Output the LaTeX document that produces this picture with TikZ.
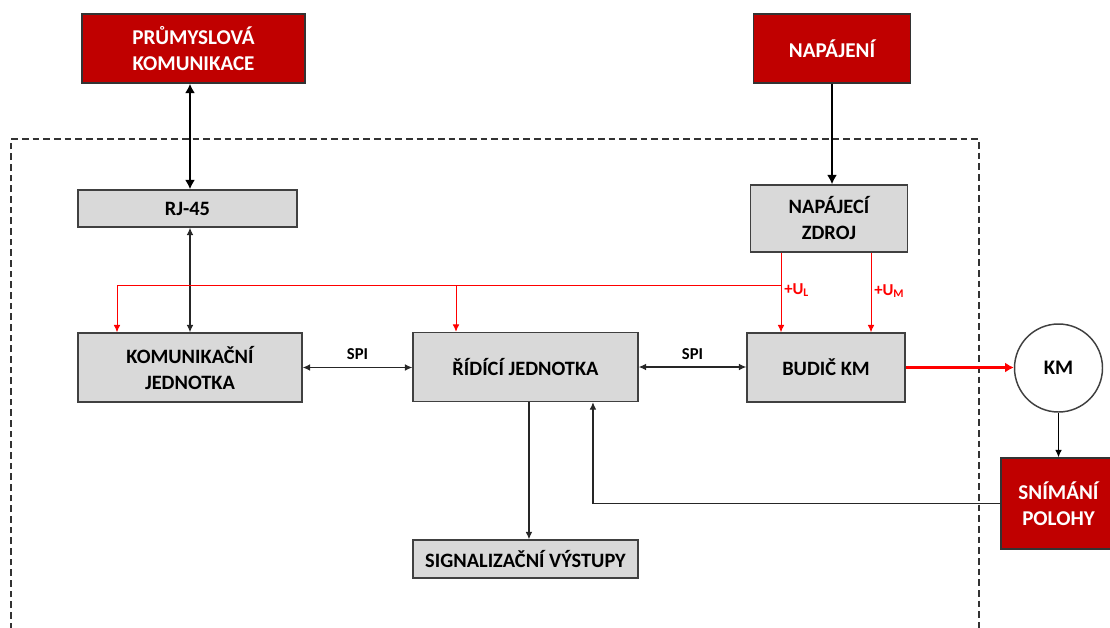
\documentclass[tikz,border=0pt]{standalone}
\usepackage{fontspec}
\setmainfont{Carlito}
\usetikzlibrary{arrows.meta}

\definecolor{tmcervena}{HTML}{C00000}
\definecolor{seda}{HTML}{D9D9D9}
\definecolor{okraj}{HTML}{404040}

\begin{document}
\begin{tikzpicture}[x=0.75pt,y=-0.75pt,
    blok/.style={draw=okraj,fill=seda,line width=1.1pt,inner sep=0pt,align=center,
      font=\bfseries\fontsize{15.3}{19.5}\selectfont},
    vnejsi/.style={blok,draw=black!80,fill=tmcervena,text=white,
      font=\bfseries\fontsize{15.8}{19.5}\selectfont},
    spoj/.style={draw=black!85,line width=0.8pt,-{Latex[length=5.5pt,width=5pt]}},
    obous/.style={spoj,{Latex[length=5.5pt,width=5pt]}-{Latex[length=5.5pt,width=5pt]}},
    silna/.style={draw=black,line width=2.2pt,-{Latex[length=7pt,width=7.5pt]}},
    silnaobous/.style={silna,{Latex[length=7pt,width=7.5pt]}-{Latex[length=7pt,width=7.5pt]}},
    napeti/.style={draw=red,line width=0.7pt,-{Latex[length=5.5pt,width=5pt]}},
    popis/.style={font=\bfseries\fontsize{12.5}{14}\selectfont}]
  \useasboundingbox (0,0) rectangle (1110,628);

  % hranice zarizeni
  \draw[black!80,line width=0.8pt,dash pattern=on 5pt off 3pt] (11,640) -- (11,139) -- (979,139) -- (979,640);

  \node[vnejsi,minimum width=167.25pt,minimum height=51.75pt] (PK) at (193.5,48.5) {PRŮMYSLOVÁ\\KOMUNIKACE};
  \node[vnejsi,minimum width=117.75pt,minimum height=51.75pt] (NAP) at (832,48.5) {NAPÁJENÍ};

  \node[blok,minimum width=164.25pt,minimum height=27.75pt] (RJ) at (187.5,208.5) {RJ-45};
  \node[blok,minimum width=117.75pt,minimum height=50.25pt] (NZ) at (829,218.5) {NAPÁJECÍ\\ZDROJ};

  \node[blok,minimum width=168pt,minimum height=51.75pt] (KJ) at (190,367.5) {KOMUNIKAČNÍ\\JEDNOTKA};
  \node[blok,minimum width=168.75pt,minimum height=51.75pt] (RJed) at (525.5,367) {ŘÍDÍCÍ JEDNOTKA};
  \node[blok,minimum width=118.5pt,minimum height=51.75pt] (BKM) at (826,367.5) {BUDIČ KM};
  \node[blok,minimum width=168.75pt,minimum height=28.5pt] (SV) at (525.5,559) {SIGNALIZAČNÍ VÝSTUPY};

  \node[circle,draw=okraj,line width=1.1pt,minimum size=66pt,inner sep=0pt,
    font=\bfseries\fontsize{15.5}{18}\selectfont] (KM) at (1058.5,368) {KM};
  \node[vnejsi,minimum width=86.25pt,minimum height=68.25pt] (SP) at (1058.5,503.5) {SNÍMÁNÍ\\POLOHY};

  % komunikace
  \draw[silnaobous] (PK.south -| KJ.north) -- (RJ.north -| KJ.north);
  \draw[obous] (RJ.south -| KJ.north) -- (KJ.north);
  \draw[silna] (NAP.south) -- (NAP.south |- NZ.north);

  \draw[obous] (KJ.east) -- node[popis,above=2pt] (SPI1) {SPI} (KJ.east -| RJed.west);
  \draw[obous] (RJed.east) -- node[popis,above=2pt] (SPI2) {SPI} (RJed.east -| BKM.west);

  % napajeni
  \coordinate (UL) at (781,285);
  \coordinate (UM) at (871,285);
  \coordinate (V1) at (117,285);
  \coordinate (V2) at (456,285);
  \draw[napeti] (UL |- NZ.south) -- (UL |- BKM.north);
  \draw[napeti] (UM |- NZ.south) -- (UM |- BKM.north);
  \draw[napeti] (UL) -- (V1) -- (V1 |- KJ.north);
  \draw[napeti] (V2) -- (V2 |- RJed.north);
  \node[popis,text=red,anchor=west,inner sep=0pt] (ULtxt) at (784,290) {+U\textsubscript{L}};
  \node[popis,text=red,anchor=west,inner sep=0pt] (UMtxt) at (874,291) {+U\textsubscript{M}};

  % motor
  \draw[red,line width=2.2pt,-{Latex[length=6.5pt,width=7.5pt]}] (BKM.east) -- (BKM.east -| KM.west);
  \draw[spoj,draw=black] (KM.south) -- (SP.north);
  \draw[spoj] (SP.west) -| ([xshift=50.6pt]RJed.south);
  \draw[spoj] ([xshift=2.6pt]RJed.south) -- ([xshift=2.6pt]SV.north);
\end{tikzpicture}
\end{document}
